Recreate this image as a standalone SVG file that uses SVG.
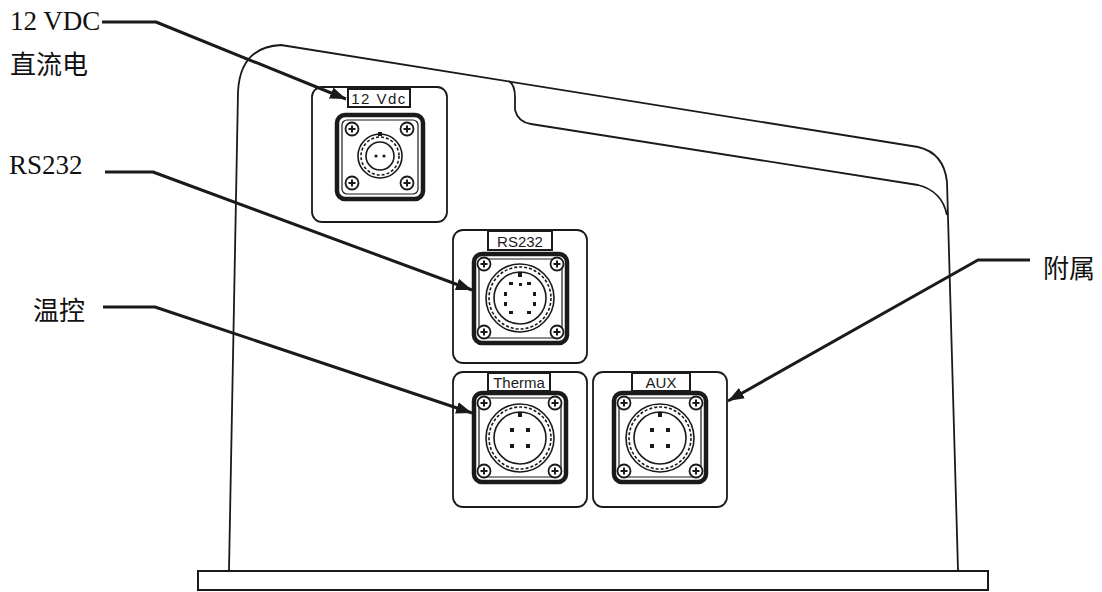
<svg xmlns="http://www.w3.org/2000/svg" width="1102" height="592" viewBox="0 0 1102 592">
<style>
.body{fill:none;stroke:#1a1a1a;stroke-width:1.8;stroke-linejoin:round}
.panel{fill:#fff;stroke:#1a1a1a;stroke-width:1.8}
.frame{fill:none;stroke:#1a1a1a;stroke-width:4.5}
.frameIn{fill:none;stroke:#1a1a1a;stroke-width:1.2}
.tag{fill:#fff;stroke:#1a1a1a;stroke-width:2}
.tagt{font-family:"Liberation Sans",Arial,sans-serif;font-size:15px;fill:#1a1a1a;text-anchor:middle}
.ring{fill:none;stroke:#1a1a1a;stroke-width:1.6}
.ringd{fill:none;stroke:#1a1a1a;stroke-width:1.6;stroke-dasharray:3 2}
.lead{fill:none;stroke:#1a1a1a;stroke-width:3;stroke-linejoin:round}
.lbl{font-family:"Liberation Serif","Times New Roman",serif;font-size:27px;fill:#111}
.cjk{font-family:"Noto Sans CJK SC","Noto Sans",sans-serif;font-size:26px;fill:#111}
.pin{fill:#1a1a1a}
</style>
<defs>
<marker id="ah" markerUnits="userSpaceOnUse" markerWidth="18" markerHeight="12" refX="16" refY="6" orient="auto">
<path d="M0,0 L16,6 L0,12 Z" fill="#1a1a1a"/>
</marker>
<g id="screw">
<circle r="6.5" fill="#fff" stroke="#1a1a1a" stroke-width="1.8"/>
<path d="M-3.5,0 H3.5 M0,-3.5 V3.5" stroke="#1a1a1a" stroke-width="2"/>
</g>
</defs>

<g id="enclosure">
<path class="body" d="M229,570 L238,92 Q240,47 281,45 L918,147 Q944,153 947,182 L958,570"/>
<path class="body" d="M509,81 Q515,85 515,97 L515,110 Q518,122 531,124 L918,185 Q942,191 947,215"/>
<path class="body" d="M229,570 Q228,572 224,572 M958,570 Q959,572 963,572"/>
<rect id="baseplate" x="198" y="571" width="790" height="19" fill="#fff" stroke="#1a1a1a" stroke-width="2"/>
</g>

<g id="panel-12vdc">
<rect class="panel" x="312" y="87" width="135" height="135" rx="10"/>
<rect class="frame" x="337" y="115" width="86" height="84" rx="8"/>
<rect class="frameIn" x="342" y="120" width="76" height="74" rx="5"/>
<rect class="tag" x="348" y="89" width="62" height="18"/>
<text class="tagt" x="379" y="103.5" style="letter-spacing:1.5px">12 Vdc</text>
<use href="#screw" x="352" y="129"/>
<use href="#screw" x="407" y="129"/>
<use href="#screw" x="352" y="183"/>
<use href="#screw" x="407" y="183"/>
<circle class="ring" cx="380" cy="156" r="22"/>
<circle class="ringd" cx="380" cy="156" r="19"/>
<circle class="ring" cx="380" cy="156" r="14"/>
<rect class="pin" x="378" y="132" width="4" height="4"/>
<circle class="pin" cx="376" cy="156" r="1.6"/>
<circle class="pin" cx="384" cy="156" r="1.6"/>
</g>

<g id="panel-rs232">
<rect class="panel" x="453" y="230" width="134" height="133" rx="10"/>
<rect class="frame" x="474" y="254" width="93" height="89" rx="8"/>
<rect class="frameIn" x="479" y="259" width="83" height="79" rx="5"/>
<rect class="tag" x="488" y="231" width="64" height="19"/>
<text class="tagt" x="520" y="246.5">RS232</text>
<use href="#screw" x="484" y="264"/>
<use href="#screw" x="557" y="264"/>
<use href="#screw" x="484" y="332"/>
<use href="#screw" x="557" y="332"/>
<circle class="ring" cx="520" cy="298" r="34"/>
<circle class="ringd" cx="520" cy="298" r="31"/>
<circle class="ring" cx="520" cy="298" r="26"/>
<rect class="pin" x="518" y="272" width="4" height="5"/>
<g class="pin">
<rect x="509" y="282" width="4" height="3"/>
<rect x="527" y="282" width="4" height="3"/>
<rect x="519" y="283" width="3" height="3"/>
<rect x="504" y="292" width="3" height="4"/>
<rect x="533" y="292" width="3" height="4"/>
<rect x="504" y="302" width="3" height="4"/>
<rect x="533" y="302" width="3" height="4"/>
<rect x="509" y="311" width="4" height="3"/>
<rect x="527" y="311" width="4" height="3"/>
</g>
</g>

<g id="panel-thermal">
<rect class="panel" x="453" y="372" width="134" height="135" rx="10"/>
<rect class="frame" x="474" y="393" width="92" height="89" rx="8"/>
<rect class="frameIn" x="479" y="398" width="82" height="79" rx="5"/>
<rect class="tag" x="488" y="373" width="62" height="18"/>
<text class="tagt" x="519" y="388">Therma</text>
<use href="#screw" x="484" y="403"/>
<use href="#screw" x="555" y="403"/>
<use href="#screw" x="484" y="471"/>
<use href="#screw" x="555" y="471"/>
<circle class="ring" cx="520" cy="438" r="34"/>
<circle class="ringd" cx="520" cy="438" r="31"/>
<circle class="ring" cx="520" cy="438" r="26"/>
<rect class="pin" x="518" y="412" width="4" height="5"/>
<g class="pin">
<rect x="510" y="428" width="4" height="4"/>
<rect x="526" y="428" width="4" height="4"/>
<rect x="510" y="444" width="4" height="4"/>
<rect x="526" y="444" width="4" height="4"/>
</g>
</g>

<g id="panel-aux">
<rect class="panel" x="593" y="372" width="134" height="135" rx="10"/>
<rect class="frame" x="614" y="393" width="92" height="89" rx="8"/>
<rect class="frameIn" x="619" y="398" width="82" height="79" rx="5"/>
<rect class="tag" x="632" y="373" width="58" height="18"/>
<text class="tagt" x="661" y="388">AUX</text>
<use href="#screw" x="624" y="403"/>
<use href="#screw" x="696" y="403"/>
<use href="#screw" x="624" y="471"/>
<use href="#screw" x="696" y="471"/>
<circle class="ring" cx="660" cy="438" r="34"/>
<circle class="ringd" cx="660" cy="438" r="31"/>
<circle class="ring" cx="660" cy="438" r="26"/>
<rect class="pin" x="658" y="412" width="4" height="5"/>
<g class="pin">
<rect x="650" y="428" width="4" height="4"/>
<rect x="666" y="428" width="4" height="4"/>
<rect x="650" y="444" width="4" height="4"/>
<rect x="666" y="444" width="4" height="4"/>
</g>
</g>

<g id="labels">
<text class="lbl" x="10" y="30">12 VDC</text>
<text class="cjk" x="10" y="74">直流电</text>
<text class="lbl" x="9" y="174">RS232</text>
<text class="cjk" x="33" y="320">温控</text>
<text class="cjk" x="1043" y="278">附属</text>
</g>

<g id="connectors">
<path class="lead" d="M102,22 L156,22 L346,99" marker-end="url(#ah)"/>
<path class="lead" d="M105,172 L153,172 L472,290" marker-end="url(#ah)"/>
<path class="lead" d="M103,307 L155,307 L472,413" marker-end="url(#ah)"/>
<path class="lead" d="M1030,260 L978,260 L728,401" marker-end="url(#ah)"/>
</g>
</svg>
